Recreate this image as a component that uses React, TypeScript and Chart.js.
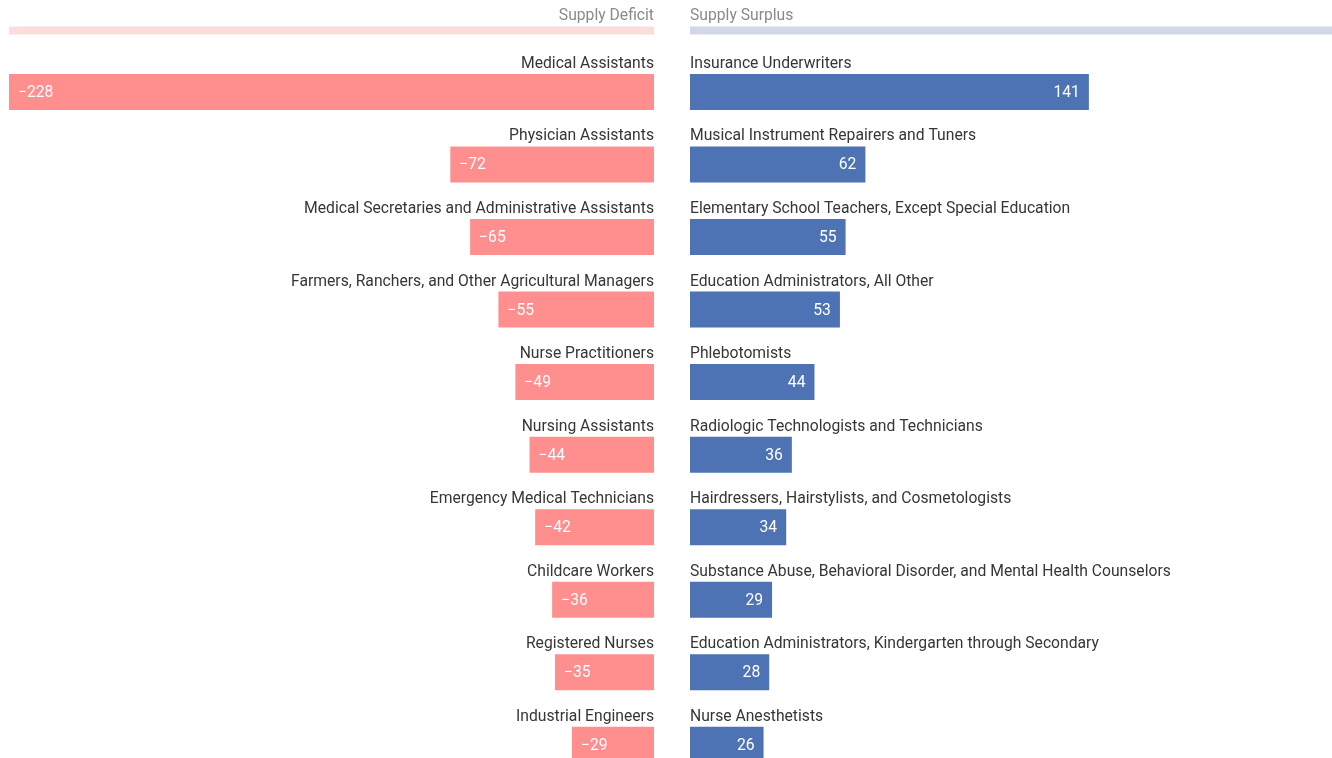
import React, { useEffect, useRef } from "react";
import { Chart, registerables } from "chart.js";

Chart.register(...registerables);

const deficitTitle = "Supply Deficit";
const surplusTitle = "Supply Surplus";

const deficitLabels = [
  "Medical Assistants",
  "Physician Assistants",
  "Medical Secretaries and Administrative Assistants",
  "Farmers, Ranchers, and Other Agricultural Managers",
  "Nurse Practitioners",
  "Nursing Assistants",
  "Emergency Medical Technicians",
  "Childcare Workers",
  "Registered Nurses",
  "Industrial Engineers",
];
const deficitValues = [-228, -72, -65, -55, -49, -44, -42, -36, -35, -29];

const surplusLabels = [
  "Insurance Underwriters",
  "Musical Instrument Repairers and Tuners",
  "Elementary School Teachers, Except Special Education",
  "Education Administrators, All Other",
  "Phlebotomists",
  "Radiologic Technologists and Technicians",
  "Hairdressers, Hairstylists, and Cosmetologists",
  "Substance Abuse, Behavioral Disorder, and Mental Health Counselors",
  "Education Administrators, Kindergarten through Secondary",
  "Nurse Anesthetists",
];
const surplusValues = [141, 62, 55, 53, 44, 36, 34, 29, 28, 26];

const FONT = '15.7px Roboto, "Noto Sans", sans-serif';
const CANVAS_H = 781;

type PanelProps = {
  side: "left" | "right";
  title: string;
  labels: string[];
  values: number[];
  color: string;
  headerColor: string;
  width: number;
  left: number;
  padLeft: number;
  min: number;
  max: number;
};

function Panel(p: PanelProps) {
  const ref = useRef<HTMLCanvasElement | null>(null);
  useEffect(() => {
    if (!ref.current) return;
    const isLeft = p.side === "left";
    const labelPlugin = {
      id: "panelLabels",
      afterDatasetsDraw(chart: any) {
        const ctx = chart.ctx;
        const area = chart.chartArea;
        ctx.save();
        // header
        ctx.font = FONT;
        ctx.fillStyle = "#8a8a8a";
        ctx.textBaseline = "middle";
        ctx.textAlign = isLeft ? "right" : "left";
        ctx.fillText(p.title, isLeft ? area.right : area.left, 16);
        ctx.fillStyle = p.headerColor;
        const hx0 = area.left;
        const hx1 = isLeft ? area.right : chart.width;
        ctx.fillRect(hx0, 26.5, hx1 - hx0, 8);
        // rows
        const meta = chart.getDatasetMeta(0);
        meta.data.forEach((el: any, i: number) => {
          const top = el.y - el.height / 2;
          ctx.fillStyle = "#363636";
          ctx.textAlign = isLeft ? "right" : "left";
          ctx.textBaseline = "middle";
          ctx.fillText(p.labels[i], isLeft ? area.right : area.left, top - 10);
          const v = p.values[i];
          const txt = v < 0 ? "\u2212" + Math.abs(v) : String(v);
          ctx.fillStyle = "#ffffff";
          if (isLeft) {
            ctx.textAlign = "left";
            ctx.fillText(txt, Math.min(el.x, el.base) + 9, el.y + 1);
          } else {
            ctx.textAlign = "right";
            ctx.fillText(txt, Math.max(el.x, el.base) - 9, el.y + 1);
          }
        });
        ctx.restore();
      },
    };
    const chart = new Chart(ref.current, {
      type: "bar",
      data: {
        labels: p.labels,
        datasets: [
          {
            data: p.values,
            backgroundColor: p.color,
            borderWidth: 0,
            barPercentage: 36 / 72.5,
            categoryPercentage: 1,
          },
        ],
      },
      options: {
        indexAxis: "y",
        animation: false,
        responsive: false,
        maintainAspectRatio: false,
        devicePixelRatio: 1,
        layout: { padding: { top: 55.75, bottom: 0, left: p.padLeft, right: 0 } },
        plugins: { legend: { display: false }, tooltip: { enabled: false }, title: { display: false } },
        scales: {
          x: { display: false, min: p.min, max: p.max },
          y: { display: false, offset: true, grid: { display: false } },
        },
      },
      plugins: [labelPlugin],
    } as any);
    return () => chart.destroy();
  }, []);
  return (
    <canvas
      ref={ref}
      width={p.width}
      height={CANVAS_H}
      style={{ position: "absolute", left: p.left, top: 0, width: p.width, height: CANVAS_H }}
    />
  );
}

export default function App() {
  return (
    <div
      style={{
        position: "fixed",
        left: 0,
        top: 0,
        width: 1332,
        height: 758,
        overflow: "hidden",
        background: "#ffffff",
      }}
    >
      <Panel
        side="left"
        title={deficitTitle}
        labels={deficitLabels}
        values={deficitValues}
        color="#ff8f8f"
        headerColor="#fddcdc"
        width={654}
        left={0}
        padLeft={9}
        min={-228}
        max={0}
      />
      <Panel
        side="right"
        title={surplusTitle}
        labels={surplusLabels}
        values={surplusValues}
        color="#4e73b4"
        headerColor="#d3d7e8"
        width={645}
        left={690}
        padLeft={0}
        min={0}
        max={228}
      />
    </div>
  );
}
